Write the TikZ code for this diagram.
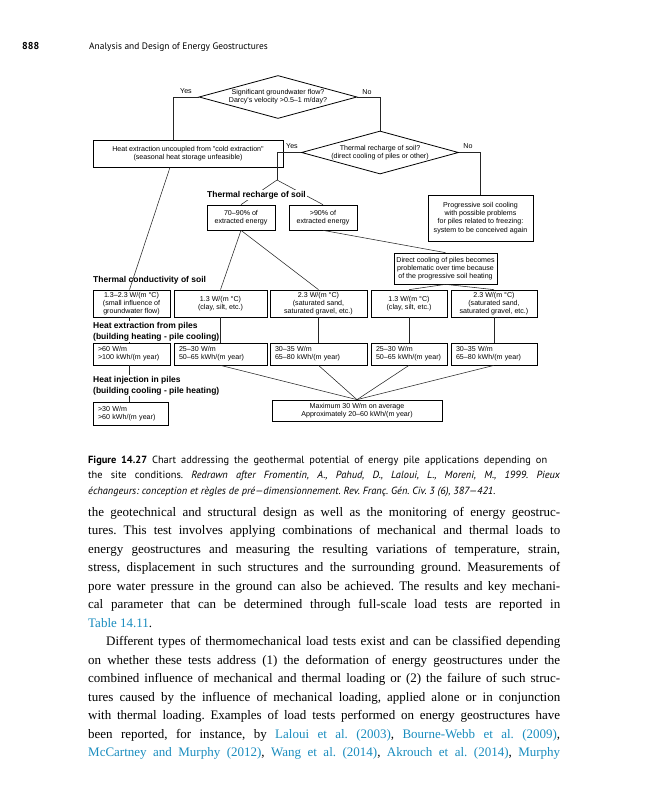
\documentclass[tikz,border=0pt]{standalone}
\usepackage{fontspec}
\setmainfont{Liberation Serif}
\newfontfamily\dsans{Liberation Sans}
\newfontfamily\capfont{PT Sans}
\usetikzlibrary{shapes.geometric}
\definecolor{linkblue}{RGB}{25,140,190}
\newcommand{\lk}[1]{\textcolor{linkblue}{#1}}
\frenchspacing
\begin{document}
\begin{tikzpicture}[x=1pt,y=-1pt,
 ln/.style={draw=black!85, line width=0.55pt},
 bx/.style={draw=black, line width=0.7pt, inner sep=0pt, align=center, font=\dsans\fontsize{7.1}{8.3}\selectfont},
 lbx/.style={bx, align=left, inner xsep=5pt},
 dia/.style={diamond, draw=black, line width=0.8pt, inner sep=0pt, aspect=3.6, align=center, font=\dsans\fontsize{7.1}{8.3}\selectfont},
 yn/.style={inner sep=0pt, font=\dsans\fontsize{7.1}{8.3}\selectfont},
 hd/.style={inner sep=1pt, align=left, font=\dsans\bfseries\fontsize{8.5}{10.8}\selectfont},
 bodyl/.style={anchor=base west, inner sep=0pt, font=\fontsize{13}{18.5}\selectfont},
 capl/.style={anchor=base west, inner sep=0pt, font=\capfont\fontsize{10.4}{15.5}\selectfont}]
\path[use as bounding box] (0,0) rectangle (648,800);

% header
\node[anchor=base west, inner sep=0pt, font=\capfont\bfseries\fontsize{10}{12}\selectfont] (pg) at (22,49.5) {888};
\node[anchor=base west, inner sep=0pt, font=\capfont\fontsize{9.4}{11}\selectfont] (hdr) at (89,49.5) {Analysis and Design of Energy Geostructures};

% decisions
\node[dia, minimum width=158pt, minimum height=43pt] (d1) at (278,97) {Significant groundwater flow?\\Darcy's velocity >0.5–1 m/day?};
\node[dia, minimum width=157pt, minimum height=43pt] (d2) at (380,152.5) {Thermal recharge of soil?\\(direct cooling of piles or other)};
\node[yn] (y1) at (186,91) {Yes};
\node[yn] (n1) at (367,92) {No};
\node[yn] (y2) at (292,146) {Yes};
\node[yn] (n2) at (468,146) {No};

\node[bx, minimum width=190pt, minimum height=27pt] (b1) at (188,153.5) {Heat extraction uncoupled from "cold extraction"\\(seasonal heat storage unfeasible)};
\node[bx, minimum width=68pt, minimum height=25pt] (r1) at (241,217.5) {70–90\% of\\extracted energy};
\node[bx, minimum width=68pt, minimum height=25pt] (r2) at (323,217.5) {>90\% of\\extracted energy};
\node[bx, minimum width=105pt, minimum height=46pt] (prog) at (480.5,218) {Progressive soil cooling\\with possible problems\\for piles related to freezing:\\system to be conceived again};
\node[bx, minimum width=103pt, minimum height=31pt] (dir) at (445.5,268.5) {Direct cooling of piles becomes\\problematic over time because\\of the progressive soil heating};

% conductivity row
\node[bx, minimum width=77pt, minimum height=27pt] (A) at (131.5,303.5) {1.3–2.3 W/(m °C)\\(small influence of\\groundwater flow)};
\node[bx, minimum width=93pt, minimum height=27pt] (B) at (220.5,303.5) {1.3 W/(m °C)\\(clay, silt, etc.)};
\node[bx, minimum width=97pt, minimum height=27pt] (C) at (318.5,303.5) {2.3 W/(m °C)\\(saturated sand,\\saturated gravel, etc.)};
\node[bx, minimum width=76pt, minimum height=27pt] (D) at (409,303.5) {1.3 W/(m °C)\\(clay, silt, etc.)};
\node[bx, minimum width=86pt, minimum height=27pt] (E) at (494,303.5) {2.3 W/(m °C)\\(saturated sand,\\saturated gravel, etc.)};

% extraction row
\node[lbx, text width=67pt, minimum height=22pt] (F) at (131.5,354) {>60 W/m\\>100 kWh/(m year)};
\node[lbx, text width=83pt, minimum height=22pt] (G) at (220.5,354) {25–30 W/m\\50–65 kWh/(m year)};
\node[lbx, text width=87pt, minimum height=22pt] (H) at (318.5,354) {30–35 W/m\\65–80 kWh/(m year)};
\node[lbx, text width=66pt, minimum height=22pt] (I) at (409,354) {25–30 W/m\\50–65 kWh/(m year)};
\node[lbx, text width=76pt, minimum height=22pt] (J) at (494,354) {30–35 W/m\\65–80 kWh/(m year)};

% injection row
\node[lbx, text width=65pt, minimum height=23pt] (K) at (130.5,413.5) {>30 W/m\\>60 kWh/(m year)};
\node[bx, minimum width=170pt, minimum height=21pt] (L) at (357,410.5) {Maximum 30 W/m on average\\Approximately 20–60 kWh/(m year)};

\coordinate (br1) at (277,180);

% connectors
\draw[ln] (d1.west) -| ([xshift=-15pt]b1.north);
\draw[ln] (d1.east) -| (d2.north);
\draw[ln] (d2.west) -| (br1);
\draw[ln] (d2.east) -| (prog.north);
\draw[ln] (br1) -- (r1.north);
\draw[ln] (br1) -- (r2.north);
\draw[ln] ([xshift=-18pt]b1.south) -- ([xshift=-2pt]A.north);
\draw[ln] (r1.south) -- (B.north);
\draw[ln] (r1.south) -- (C.north);
\draw[ln] (r2.south) -- (dir.north);
\draw[ln] (dir.south) -- (D.north);
\draw[ln] (dir.south) -- (E.north);
\draw[ln] ([xshift=-2pt]A.south) -- ([xshift=-2pt]F.north);
\draw[ln] (B) -- (G);
\draw[ln] (C) -- (H);
\draw[ln] (D) -- (I);
\draw[ln] (E) -- (J);
\draw[ln] ([xshift=-2pt]F.south) -- ([xshift=-1pt]K.north);
\draw[ln] (G.south) -- (L.north);
\draw[ln] (H.south) -- (L.north);
\draw[ln] (I.south) -- (L.north);
\draw[ln] (J.south) -- (L.north);

% headings
\node[hd, fill=white] (hrech) at (256.5,195) {Thermal recharge of soil};
\node[hd, anchor=west] (hcond) at (92,280) {Thermal conductivity of soil};
\node[hd, anchor=west, fill=white] (hext) at (92,331.5) {Heat extraction from piles\\(building heating - pile cooling)};
\node[hd, anchor=west, fill=white] (hinj) at (92,385.5) {Heat injection in piles\\(building cooling - pile heating)};

% caption
\node[capl] (c1) at (88,463) {\makebox[459pt][s]{\textbf{Figure 14.27} Chart addressing the geothermal potential of energy pile applications depending on}};
\node[capl] (c2) at (88,478.5) {\makebox[472pt][s]{the site conditions. \textit{Redrawn after Fromentin, A., Pahud, D., Laloui, L., Moreni, M., 1999. Pieux}}};
\node[capl] (c3) at (88,494) {\textit{échangeurs: conception et règles de pré—dimensionnement. Rev. Franç. Gén. Civ. 3 (6), 387—421.}};

% body text
\node[bodyl] (t1) at (88,516) {\makebox[472pt][s]{the geotechnical and structural design as well as the monitoring of energy geostruc-}};
\node[bodyl] (t2) at (88,534.5) {\makebox[472pt][s]{tures. This test involves applying combinations of mechanical and thermal loads to}};
\node[bodyl] (t3) at (88,553) {\makebox[472pt][s]{energy geostructures and measuring the resulting variations of temperature, strain,}};
\node[bodyl] (t4) at (88,571.5) {\makebox[472pt][s]{stress, displacement in such structures and the surrounding ground. Measurements of}};
\node[bodyl] (t5) at (88,590) {\makebox[472pt][s]{pore water pressure in the ground can also be achieved. The results and key mechani-}};
\node[bodyl] (t6) at (88,608.5) {\makebox[472pt][s]{cal parameter that can be determined through full-scale load tests are reported in}};
\node[bodyl] (t7) at (88,627) {\lk{Table 14.11}.};
\node[bodyl] (t8) at (106,645.5) {\makebox[454pt][s]{Different types of thermomechanical load tests exist and can be classified depending}};
\node[bodyl] (t9) at (88,664) {\makebox[472pt][s]{on whether these tests address (1) the deformation of energy geostructures under the}};
\node[bodyl] (t10) at (88,682.5) {\makebox[472pt][s]{combined influence of mechanical and thermal loading or (2) the failure of such struc-}};
\node[bodyl] (t11) at (88,701) {\makebox[472pt][s]{tures caused by the influence of mechanical loading, applied alone or in conjunction}};
\node[bodyl] (t12) at (88,719.5) {\makebox[472pt][s]{with thermal loading. Examples of load tests performed on energy geostructures have}};
\node[bodyl] (t13) at (88,738) {\makebox[472pt][s]{been reported, for instance, by \lk{Laloui et al. (2003)}, \lk{Bourne-Webb et al. (2009)},}};
\node[bodyl] (t14) at (88,756.5) {\makebox[472pt][s]{\lk{McCartney and Murphy (2012)}, \lk{Wang et al. (2014)}, \lk{Akrouch et al. (2014)}, \lk{Murphy}}};
\end{tikzpicture}
\end{document}
